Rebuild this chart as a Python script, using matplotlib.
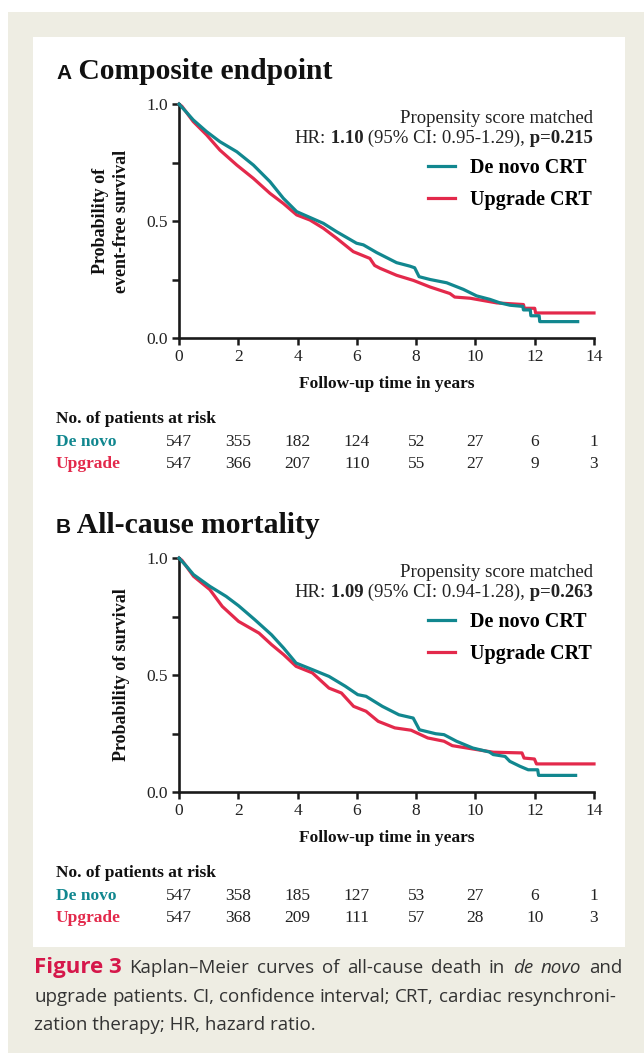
import matplotlib
matplotlib.use("Agg")
import matplotlib.pyplot as plt
from matplotlib.patches import Rectangle
from matplotlib.font_manager import FontProperties
from matplotlib.transforms import blended_transform_factory

# ---- data ----
years = [0, 2, 4, 6, 8, 10, 12, 14]

# panel A, composite endpoint
a_denovo_t = [0, 0.25, 0.48, 0.93, 1.38, 1.95, 2.51, 3.07, 3.52, 3.97, 4.42, 4.87, 5.32, 5.99, 6.22,
              6.67, 7.34, 7.79, 7.95, 8.1, 8.47, 9.03, 9.59, 10.04, 10.49, 10.83, 11.17, 11.6, 11.62,
              11.85, 11.87, 12.15, 12.17, 13.45]
a_denovo_s = [1.0, 0.965, 0.932, 0.882, 0.839, 0.796, 0.739, 0.668, 0.597, 0.540, 0.515, 0.490, 0.454,
              0.405, 0.398, 0.365, 0.322, 0.307, 0.300, 0.262, 0.250, 0.236, 0.208, 0.180, 0.165, 0.150,
              0.140, 0.135, 0.120, 0.120, 0.095, 0.095, 0.070, 0.070]
a_upgrade_t = [0, 0.1, 0.48, 0.93, 1.38, 1.95, 2.51, 3.07, 3.52, 3.97, 4.42, 4.87, 5.32, 5.88, 6.44,
               6.6, 6.78, 7.34, 7.91, 8.47, 9.14, 9.3, 9.82, 10.72, 11.62, 11.65, 12.0, 12.03, 14.0]
a_upgrade_s = [1.0, 0.99, 0.925, 0.868, 0.803, 0.739, 0.682, 0.618, 0.575, 0.526, 0.504, 0.469, 0.426,
               0.369, 0.340, 0.310, 0.298, 0.268, 0.246, 0.218, 0.190, 0.175, 0.170, 0.150, 0.143,
               0.127, 0.127, 0.107, 0.107]
a_risk_denovo = [547, 355, 182, 124, 52, 27, 6, 1]
a_risk_upgrade = [547, 366, 207, 110, 55, 27, 9, 3]

# panel B, all-cause mortality
b_denovo_t = [0, 0.25, 0.49, 1.04, 1.59, 2.01, 2.56, 3.12, 3.53, 3.95, 4.5, 5.06, 5.61, 6.03, 6.31,
              6.86, 7.42, 7.9, 8.11, 8.66, 8.94, 9.36, 9.91, 10.47, 10.6, 11.0, 11.16, 11.5, 11.78,
              12.1, 12.13, 13.38]
b_denovo_s = [1.0, 0.965, 0.929, 0.879, 0.836, 0.796, 0.736, 0.672, 0.615, 0.551, 0.523, 0.494, 0.452,
              0.416, 0.409, 0.366, 0.330, 0.316, 0.266, 0.249, 0.245, 0.217, 0.188, 0.171, 0.160, 0.152,
              0.131, 0.110, 0.095, 0.095, 0.071, 0.071]
b_upgrade_t = [0, 0.1, 0.49, 1.04, 1.46, 2.01, 2.7, 3.12, 3.53, 3.95, 4.5, 5.06, 5.48, 5.89, 6.31,
               6.72, 7.28, 7.83, 8.39, 8.94, 9.22, 9.91, 10.6, 11.57, 11.64, 11.99, 12.06, 14.0]
b_upgrade_s = [1.0, 0.99, 0.922, 0.865, 0.793, 0.729, 0.679, 0.630, 0.587, 0.537, 0.509, 0.444, 0.423,
               0.366, 0.345, 0.302, 0.274, 0.264, 0.231, 0.217, 0.198, 0.184, 0.170, 0.167, 0.145,
               0.141, 0.120, 0.120]
b_risk_denovo = [547, 358, 185, 127, 53, 27, 6, 1]
b_risk_upgrade = [547, 368, 209, 111, 57, 28, 10, 3]

TEAL = "#11878f"
RED = "#e3294b"
CRIMSON = "#d5174a"
BEIGE = "#eeede3"
SERIF = "Liberation Serif"

W, H = 644, 1053
fig = plt.figure(figsize=(W / 100, H / 100), dpi=100)
fig.patch.set_facecolor("white")


def fx(px):
    return px / W


def fy(py):
    return 1 - py / H


fig.patches.append(Rectangle((fx(8), 0), 1 - fx(8), fy(12), transform=fig.transFigure,
                             facecolor=BEIGE, edgecolor="none", zorder=-10))
fig.patches.append(Rectangle((fx(33), fy(947)), fx(625) - fx(33), fy(37) - fy(947),
                             transform=fig.transFigure, facecolor="white", edgecolor="none", zorder=-9))


def pieces(x, y, parts, ha="left", width=None, **kw):
    # draw a row of differently styled texts side by side;
    # with width given, stretch the gaps so the row is justified
    r = fig.canvas.get_renderer()
    txts = []
    widths = []
    for s, props in parts:
        t = fig.text(x, y, s, ha="left", **kw, **props)
        widths.append(t.get_window_extent(r).width / fig.bbox.width)
        txts.append(t)
    gap = 0
    if width is not None and len(parts) > 1:
        gap = (width - sum(widths)) / (len(parts) - 1)
    start = x if ha == "left" else x - sum(widths)
    for t, w in zip(txts, widths):
        t.set_x(start)
        start += w + gap


def panel(top_px, bot_px, letter, title, ylab, ylab_x, hr, ci, p, t1, s1, t2, s2, r1, r2):
    ax = fig.add_axes([fx(179), fy(bot_px), fx(594) - fx(179), fy(top_px) - fy(bot_px)])
    ax.plot(t1, s1, color=TEAL, lw=2.3, clip_on=False, label="De novo CRT", zorder=3)
    ax.plot(t2, s2, color=RED, lw=2.3, clip_on=False, label="Upgrade CRT", zorder=2)
    ax.set_xlim(0, 14)
    ax.set_ylim(0, 1)
    ax.set_xticks(years)
    ax.set_yticks([0, 0.5, 1.0])
    ax.set_yticks([0.25, 0.75], minor=True)
    ax.set_yticklabels(["0.0", "0.5", "1.0"])
    for side in ("top", "right"):
        ax.spines[side].set_visible(False)
    for side in ("left", "bottom"):
        ax.spines[side].set_linewidth(1.9)
        ax.spines[side].set_color("#1a1a1a")
    ax.tick_params(which="both", direction="out", length=5, width=1.8, color="#1a1a1a",
                   labelsize=12.5, labelcolor="#222222", pad=3)
    for lab in ax.get_xticklabels() + ax.get_yticklabels():
        lab.set_fontfamily(SERIF)
    ax.set_xlabel("Follow-up time in years", fontfamily=SERIF, fontweight="bold", fontsize=12.5,
                  labelpad=8, color="#111111")
    fig.text(fx(ylab_x), fy((top_px + bot_px) / 2), ylab, rotation=90, ha="center", va="center",
             fontfamily=SERIF, fontweight="bold", fontsize=13, multialignment="center",
             color="#111111", linespacing=1.25)

    # panel title
    pieces(fx(56), fy(top_px - 25), [(letter, dict(fontfamily="Liberation Sans", fontweight="bold",
                                                   fontsize=15)),
                                     (" " + title, dict(fontfamily=SERIF, fontweight="bold",
                                                        fontsize=21.3))],
           va="baseline", color="#111111")

    # statistics
    fig.text(fx(593), fy(top_px + 19), "Propensity score matched", ha="right", va="baseline",
             fontfamily=SERIF, fontsize=13.5, color="#222222")
    norm = dict(fontfamily=SERIF, fontsize=13.5)
    bold = dict(fontfamily=SERIF, fontsize=13.5, fontweight="bold")
    pieces(fx(593), fy(top_px + 39), [("HR:", norm), (" " + hr, bold), (" (95% CI: " + ci + "),", norm),
                                      (" p=" + p, bold)], ha="right", va="baseline", color="#222222")

    ax.legend(loc="upper left", bbox_to_anchor=(fx(428), fy(top_px + 54)), bbox_transform=fig.transFigure,
              frameon=False, prop=FontProperties(family=SERIF, weight="bold", size=14.5),
              handlelength=1.35, handletextpad=0.75, labelspacing=0.58, borderpad=0, borderaxespad=0)

    # numbers at risk
    tr = blended_transform_factory(ax.transData, fig.transFigure)
    fig.text(fx(56), fy(bot_px + 85), "No. of patients at risk", ha="left", va="baseline",
             fontfamily=SERIF, fontweight="bold", fontsize=12.5, color="#111111")
    fig.text(fx(56), fy(bot_px + 104), "De novo", ha="left", va="center", fontfamily=SERIF,
             fontweight="bold", fontsize=12.5, color=TEAL)
    fig.text(fx(56), fy(bot_px + 126), "Upgrade", ha="left", va="center", fontfamily=SERIF,
             fontweight="bold", fontsize=12.5, color=RED)
    for yr, n1, n2 in zip(years, r1, r2):
        ax.text(yr, fy(bot_px + 104), str(n1), transform=tr, ha="center", va="center",
                fontfamily=SERIF, fontsize=12.5, color="#222222")
        ax.text(yr, fy(bot_px + 126), str(n2), transform=tr, ha="center", va="center",
                fontfamily=SERIF, fontsize=12.5, color="#222222")
    return ax


panel(104, 338, "A", "Composite endpoint", "Probability of\nevent-free survival", 111,
      "1.10", "0.95-1.29", "0.215", a_denovo_t, a_denovo_s, a_upgrade_t, a_upgrade_s,
      a_risk_denovo, a_risk_upgrade)
panel(558, 792, "B", "All-cause mortality", "Probability of survival", 121,
      "1.09", "0.94-1.28", "0.263", b_denovo_t, b_denovo_s, b_upgrade_t, b_upgrade_s,
      b_risk_denovo, b_risk_upgrade)

# caption (two justified lines, last one ragged)
CAP = "Open Sans"
cap_n = dict(fontfamily=CAP, fontsize=13.5, color="#333333")
cap_i = dict(cap_n, fontstyle="italic")
line1 = [("Figure 3", dict(fontfamily=CAP, fontsize=16, fontweight="bold", color=CRIMSON))]
line1 += [(w, cap_n) for w in "Kaplan\u2013Meier curves of all-cause death in".split()]
line1 += [("de", cap_i), ("novo", cap_i), ("and", cap_n)]
line2 = [(w, cap_n) for w in "upgrade patients. CI, confidence interval; CRT, cardiac resynchroni-".split()]
pieces(fx(34), fy(973), line1, width=fx(622) - fx(34), va="baseline")
pieces(fx(34), fy(1002), line2, width=fx(616) - fx(34), va="baseline")
fig.text(fx(34), fy(1030), "zation therapy; HR, hazard ratio.", va="baseline", **cap_n)

fig.savefig("out.png", dpi=100)
